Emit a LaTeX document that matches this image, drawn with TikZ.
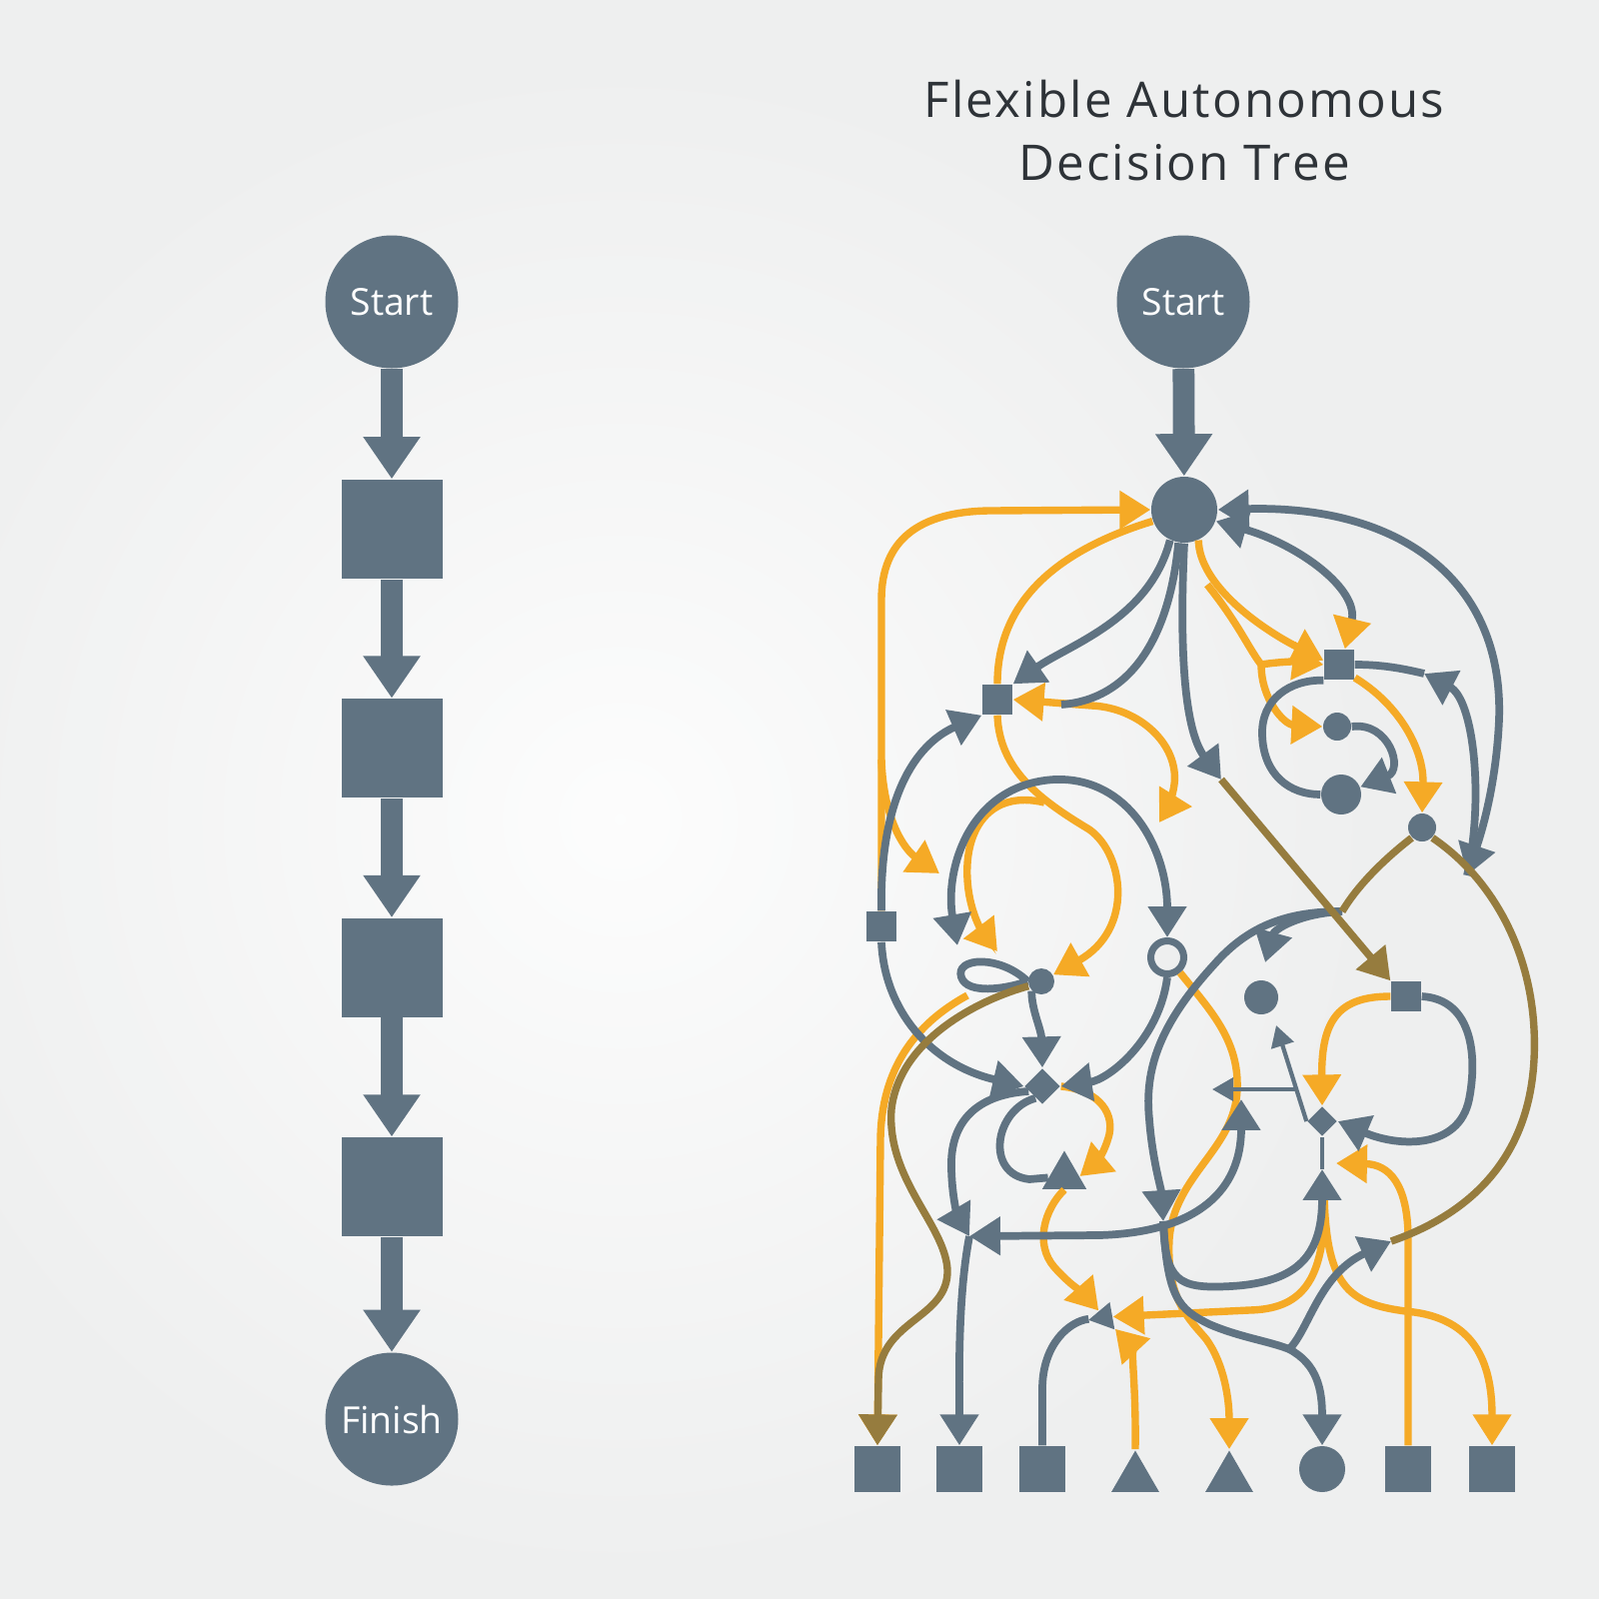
\documentclass[tikz,border=0pt]{standalone}
\usepackage{fontspec}
\setmainfont{Open Sans}
\usetikzlibrary{positioning, arrows.meta, shapes.geometric}

\definecolor{slate}{RGB}{96,115,130}
\definecolor{amber}{RGB}{245,170,38}
\definecolor{umber}{RGB}{150,124,62}
\definecolor{paper}{RGB}{238,239,239}
\definecolor{ink}{RGB}{46,51,56}

\tikzset{
    endpt/.style={circle, fill=slate, minimum size=13.3mm, inner sep=0pt, text=white,
        font=\fontsize{10.6pt}{12pt}\selectfont},
    stepsq/.style={rectangle, fill=slate, minimum width=10.1mm, minimum height=9.9mm},
    spine/.style={draw=slate, line width=6.2pt, -{Triangle[width=15.5pt,length=12pt]}},
    heading/.style={text=ink, font=\fontsize{14pt}{16pt}\selectfont\addfontfeature{LetterSpace=4.5},
        anchor=base},
    bead/.style={circle, fill=slate, inner sep=0pt, minimum size=#1},
    bead/.default=2.8mm,
    sq/.style={rectangle, fill=slate, inner sep=0pt, minimum size=#1},
    sq/.default=3mm,
    tri/.style={regular polygon, regular polygon sides=3, fill=slate, inner sep=0pt, minimum size=#1},
    dia/.style={diamond, fill=slate, inner sep=0pt, minimum size=#1},
    ring/.style={circle, draw=slate, line width=2pt, fill=paper, inner sep=0pt, minimum size=3.3mm},
    gl/.style={draw=slate, line width=2.2pt},
    ol/.style={draw=amber, line width=2.1pt},
    bl/.style={draw=umber, line width=2.1pt},
    thinl/.style={draw=slate, line width=1.2pt},
    >={Triangle[width=10.5pt,length=8.8pt]},
}

\begin{document}
\begin{tikzpicture}[x=0.1mm, y=-0.1mm]
    % backdrop
    \useasboundingbox (0,0) rectangle (1600,1600);
    \begin{scope}
        \clip (0,0) rectangle (1600,1600);
        \fill[paper] (0,0) rectangle (1600,1600);
        \shade[inner color=white!85!paper, outer color=paper] (620,820) circle (760);
    \end{scope}

    % linear chain
    \node[endpt] (s1) at (392,302) {Start};
    \node[stepsq, below=11mm of s1] (q1) {};
    \node[stepsq, below=11.9mm of q1] (q2) {};
    \node[stepsq, below=11.9mm of q2] (q3) {};
    \node[stepsq, below=11.9mm of q3] (q4) {};
    \node[endpt, below=11.5mm of q4] (fin) {Finish};
    \draw[spine] (s1) -- (q1);
    \draw[spine] (q1) -- (q2);
    \draw[spine] (q2) -- (q3);
    \draw[spine] (q3) -- (q4);
    \draw[spine] (q4) -- (fin);

    % tree
    \node[heading] (title1) at (1185,117) {Flexible Autonomous};
    \node[heading] (title2) at (1185,180) {Decision Tree};
    \node[endpt] (s2) at (1184,302) {Start};
    \node[bead=6.6mm] (hub) at (1185,510) {};
    \draw[spine] (s2) -- (hub);

    \node[sq] (A) at (998,700) {};
    \node[sq] (B) at (1340,665) {};
    \node[bead] (C) at (1338,727) {};
    \node[bead=4mm] (D) at (1342,795) {};
    \node[bead] (E) at (1423,828) {};
    \node[sq] (F) at (882,927) {};
    \node[bead=2.6mm] (G) at (1042,982) {};
    \node[ring] (H) at (1168,958) {};
    \node[dia=3.6mm] (I) at (1043,1087) {};
    \node[tri=5.1mm] (J) at (1065,1177) {};
    \node[bead=3.4mm] (L) at (1262,998) {};
    \node[sq] (M) at (1407,997) {};
    \node[dia=3mm] (N) at (1323,1122) {};
    \node[tri=3.2mm, rotate=-20] (P) at (1105,1318) {};

    % outcomes
    \node[sq=4.6mm] (o1) at (878,1470) {};
    \node[sq=4.6mm] (o2) at (960,1470) {};
    \node[sq=4.6mm] (o3) at (1043,1470) {};
    \node[tri=5.5mm] (o4) at (1136,1479) {};
    \node[tri=5.5mm] (o5) at (1230,1479) {};
    \node[bead=4.6mm] (o6) at (1323,1470) {};
    \node[sq=4.6mm] (o7) at (1409,1470) {};
    \node[sq=4.6mm] (o8) at (1493,1470) {};

    % free ends and junctions
    \coordinate (fv) at (882,760);
    \coordinate (fb) at (940,874);
    \coordinate (ia) at (1045,803);
    \coordinate (ib) at (998,952);
    \coordinate (aj) at (1062,705);
    \coordinate (aw) at (1160,823);
    \coordinate (ok) at (1208,585);
    \coordinate (oc) at (1262,665);
    \coordinate (hx) at (1222,780);
    \coordinate (rt) at (1468,876);
    \coordinate (bk) at (1425,674);
    \coordinate (gL) at (958,946);
    \coordinate (gq) at (968,996);
    \coordinate (K) at (970,1237);
    \coordinate (kt) at (1242,1100);
    \coordinate (ej) at (1343,912);
    \coordinate (lt) at (1266,963);
    \coordinate (vt) at (1164,1222);
    \coordinate (Ob) at (1323,1170);
    \coordinate (ob) at (1325,1198);
    \coordinate (Q) at (1290,1350);
    \coordinate (qt) at (1392,1242);
    \coordinate (nt) at (1337,1164);
    \coordinate (hm) at (1297,1090);
    \coordinate (hl) at (1213,1090);
    \coordinate (lu) at (1277,1026);

    % amber links
    \draw[ol, ->] (F.north) -- (882,600) .. controls (882,540) and (920,512) .. (990,511) -- (hub.west);
    \draw[ol, ->] (fv) .. controls (884,820) and (905,850) .. (fb);
    \draw[ol, ->] (hub.200) .. controls (1060,550) and (998,600) .. (A.north)
        (A.south) .. controls (1000,770) and (1040,800) .. (1090,830)
        .. controls (1125,855) and (1135,930) .. (G);
    \draw[ol, ->] (ia) .. controls (990,790) and (965,830) .. (968,880) .. controls (970,915) and (985,935) .. (ib);
    \draw[ol, <->] (A.east) -- (1092,706) .. controls (1140,708) and (1180,745) .. (1175,785)
        .. controls (1172,805) and (1165,815) .. (aw);
    \draw[ol, ->] (hub.-65) .. controls (1200,585) and (1260,628) .. (B.165);
    \draw[ol, ->] (ok) .. controls (1240,625) and (1250,650) .. (oc) .. controls (1280,662) and (1300,662) .. (B.west);
    \draw[ol, ->] (oc) .. controls (1262,700) and (1285,725) .. (C.west);
    \draw[ol, ->] (B.-40) .. controls (1400,705) and (1425,750) .. (E.north);
    \draw[ol, ->] (H.-50) .. controls (1210,1010) and (1240,1040) .. (1238,1090)
        .. controls (1236,1150) and (1175,1175) .. (1170,1240)
        .. controls (1167,1300) and (1190,1320) .. (1207,1340)
        .. controls (1225,1365) and (1230,1400) .. (o5.north);
    \draw[ol, ->] (I.east) .. controls (1095,1090) and (1115,1110) .. (1110,1135)
        .. controls (1105,1155) and (1095,1165) .. (J.east);
    \draw[ol, ->] (J.south) .. controls (1045,1210) and (1035,1245) .. (1055,1268)
        .. controls (1070,1285) and (1085,1295) .. (P);
    \draw[ol, ->] (o4.north) .. controls (1137,1380) and (1130,1345) .. (P);
    \draw[ol, ->] (ob) .. controls (1327,1285) and (1300,1310) .. (1250,1311) -- (P);
    \draw[ol, ->] (ob) .. controls (1328,1290) and (1350,1306) .. (1415,1313)
        .. controls (1480,1322) and (1493,1370) .. (o8.north);
    \draw[ol, ->] (o7.north) -- (1409,1240) .. controls (1409,1185) and (1390,1165) .. (nt);
    \draw[ol, ->] (M.west) .. controls (1340,997) and (1322,1020) .. (N.north);
    \draw[ol, ->] (gq) .. controls (915,1025) and (882,1070) .. (881,1140) -- (o1.north);

    % slate links
    \draw[gl, ->] (hub.-115) .. controls (1150,620) and (1070,645) .. (A.north east);
    \draw[gl] (hub.-100) .. controls (1170,640) and (1130,700) .. (aj);
    \draw[gl, ->] (hub.south) .. controls (1180,650) and (1185,730) .. (hx);
    \draw[gl, <->] (hub.east) .. controls (1400,505) and (1505,580) .. (1500,720)
        .. controls (1497,790) and (1480,840) .. (rt);
    \draw[gl, {Triangle[width=10.5pt,length=8.8pt]}-{Triangle[width=10.5pt,length=8.8pt,color=amber]}]
        (hub.-20) .. controls (1300,545) and (1360,590) .. (B.70);
    \draw[gl] (B.south west) .. controls (1290,680) and (1262,700) .. (1263,735)
        .. controls (1264,775) and (1290,795) .. (D.west);
    \draw[gl, ->] (C.east) .. controls (1390,722) and (1405,770) .. (D);
    \draw[gl] (B.east) .. controls (1380,665) and (1400,668) .. (bk);
    \draw[gl, ->] (rt) .. controls (1485,800) and (1475,700) .. (bk);
    \draw[gl, ->] (F.north) .. controls (880,800) and (915,745) .. (A.south west);
    \draw[gl, ->] (F.south) .. controls (885,1010) and (930,1065) .. (I.west);
    \draw[gl, <->] (gL) .. controls (945,870) and (970,785) .. (1055,780)
        .. controls (1130,777) and (1168,850) .. (H.north);
    \draw[gl] (G.west) .. controls (1000,955) and (955,958) .. (962,978)
        .. controls (968,995) and (1005,990) .. (G.west);
    \draw[gl, ->] (G.south west) .. controls (1032,1010) and (1042,1030) .. (I.north);
    \draw[gl, ->] (H.south) .. controls (1160,1040) and (1110,1080) .. (I.east);
    \draw[gl, ->] (I.200) .. controls (980,1095) and (950,1120) .. (952,1170)
        .. controls (953,1205) and (960,1220) .. (K);
    \draw[gl] (I.240) .. controls (995,1110) and (985,1175) .. (1030,1180) -- (J);
    \draw[gl, <->] (K) -- (1100,1236) .. controls (1200,1233) and (1242,1190) .. (kt);
    \draw[gl, ->] (K) .. controls (958,1300) and (960,1380) .. (o2.north);
    \draw[gl] (o3.north) -- (1043,1390) .. controls (1043,1345) and (1070,1322) .. (P);
    \draw[gl, ->] (ej) .. controls (1300,914) and (1275,930) .. (lt);
    \draw[gl, ->] (ej) .. controls (1290,912) and (1250,925) .. (1215,965)
        .. controls (1160,1025) and (1145,1070) .. (1150,1120)
        .. controls (1153,1160) and (1162,1190) .. (vt);
    \draw[gl, ->] (vt) .. controls (1166,1282) and (1178,1290) .. (1232,1287)
        .. controls (1300,1283) and (1323,1255) .. (Ob);
    \draw[gl] (vt) .. controls (1168,1300) and (1180,1310) .. (1210,1325)
        .. controls (1240,1338) and (1270,1342) .. (Q);
    \draw[gl, ->] (Q) .. controls (1318,1365) and (1323,1390) .. (o6.north);
    \draw[gl, ->] (Q) .. controls (1310,1330) and (1320,1275) .. (qt);
    \draw[gl, ->] (M.east) .. controls (1475,1000) and (1478,1060) .. (1470,1100)
        .. controls (1460,1150) and (1400,1148) .. (N.east);
    \draw[thinl] (Ob) -- (N);
    \draw[thinl, -{Triangle[width=6.5pt,length=6pt]}] (N.west) -- (lu);
    \draw[thinl, -{Triangle[width=6.5pt,length=6pt]}] (hm) -- (hl);

    % umber links
    \draw[bl, ->] (hx) -- (M.135);
    \draw[bl] (E.south west) .. controls (1395,852) and (1362,880) .. (ej);
    \draw[bl] (E.south east) .. controls (1495,880) and (1540,960) .. (1535,1060)
        .. controls (1530,1160) and (1470,1215) .. (qt);
    \draw[bl, ->] (G.200) .. controls (980,1000) and (900,1040) .. (892,1110)
        .. controls (887,1180) and (945,1225) .. (948,1270)
        .. controls (950,1320) and (880,1320) .. (879,1380) -- (o1.north);
\end{tikzpicture}
\end{document}
